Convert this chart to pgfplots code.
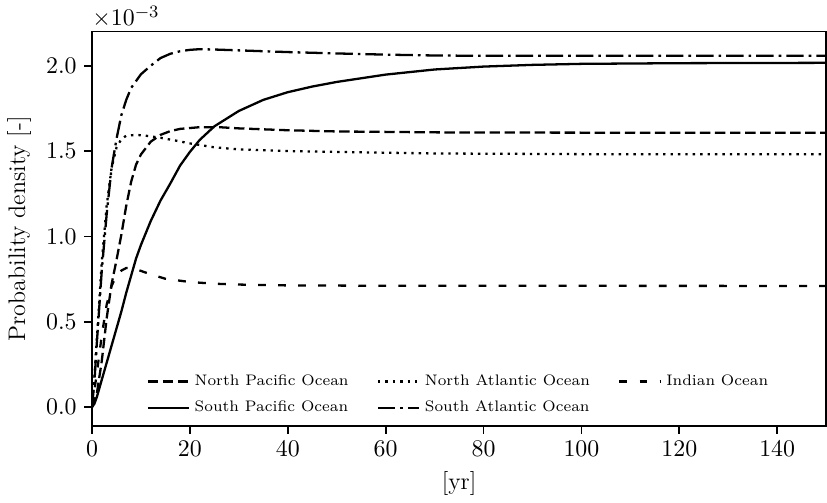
\documentclass[border=0pt]{standalone}
\usepackage{pgfplots}
\pgfplotsset{compat=1.18}

% values in units of 1e-3
\pgfplotstableread{
x y
0 0
1 0.08
2 0.27
3 0.52
4 0.72
5 0.86
6 1.01
7 1.18
8 1.32
9 1.42
10 1.48
12 1.555
14 1.595
16 1.617
18 1.63
22 1.64
26 1.64
30 1.633
40 1.622
50 1.615
73 1.609
100 1.608
150 1.607
}\northpacific

\pgfplotstableread{
x y
0 0
0.5 0.18
1 0.4
2 0.85
3 1.18
4 1.4
5 1.52
6 1.57
7 1.59
9 1.595
11 1.59
14 1.578
17 1.562
20 1.545
25 1.522
30 1.51
40 1.5
50 1.495
70 1.486
100 1.482
150 1.481
}\northatlantic

\pgfplotstableread{
x y
0 0
1 0.2
2 0.42
3 0.6
4 0.71
5 0.77
6 0.8
7 0.815
8 0.815
9 0.808
10 0.798
12 0.778
15 0.752
20 0.733
25 0.723
30 0.718
40 0.713
60 0.711
150 0.71
}\indian

\pgfplotstableread{
x y
0 0
0.5 0.02
1 0.06
2 0.16
3 0.26
4 0.36
5 0.46
6 0.56
7 0.67
8 0.77
9 0.87
10 0.95
12 1.09
14 1.21
16 1.31
18 1.415
20 1.495
22 1.565
25 1.645
30 1.735
35 1.8
40 1.845
45 1.878
50 1.905
60 1.948
70 1.978
80 1.995
90 2.005
100 2.011
120 2.015
150 2.017
}\southpacific

\pgfplotstableread{
x y
0 0
0.5 0.15
1 0.38
2 0.8
3 1.13
4 1.4
5 1.57
6 1.71
7 1.8
8 1.87
10 1.95
12 2.0
14 2.045
16 2.07
18 2.085
20 2.093
22 2.097
25 2.095
30 2.09
40 2.08
50 2.072
60 2.065
70 2.06
80 2.058
100 2.058
150 2.058
}\southatlantic

\begin{document}
\begin{tikzpicture}
\begin{axis}[
    name=main,
    scale only axis,
    width=337pt, height=181pt,
    xmin=0, xmax=150,
    ymin=-0.11, ymax=2.2,
    xtick={0,20,...,140},
    ytick={0,0.5,1,1.5,2},
    yticklabel style={/pgf/number format/.cd,fixed,fixed zerofill,precision=1},
    tick label style={font=\fontsize{11}{13}\selectfont},
    label style={font=\fontsize{11}{13}\selectfont},
    tick align=outside,
    xtick pos=bottom, ytick pos=left,
    major tick length=3.5pt,
    axis line style={line width=0.8pt},
    every tick/.style={black, line width=0.8pt},
    xlabel={[yr]},
    ylabel={Probability density [-]},
    legend columns=3,
    legend style={draw=none, fill=none, font=\scriptsize,
        at={(0.065,0.005)}, anchor=south west, row sep=1.5pt,
        /tikz/every even column/.append style={column sep=11pt}},
    legend cell align=left,
    legend image code/.code={\draw[#1] (0pt,0pt) -- (19pt,0pt);},
    every axis plot/.append style={black, line width=1.05pt},
]
\addplot[dash pattern=on 4.8pt off 2.1pt] table {\northpacific};
\addlegendentry{North Pacific Ocean}
\addplot[dash pattern=on 1.1pt off 2.3pt] table {\northatlantic};
\addlegendentry{North Atlantic Ocean}
\addplot[dash pattern=on 3.6pt off 5.6pt] table {\indian};
\addlegendentry{Indian Ocean}
\addplot[solid] table {\southpacific};
\addlegendentry{South Pacific Ocean}
\addplot[dash pattern=on 8pt off 2.3pt on 1.2pt off 2.3pt] table {\southatlantic};
\addlegendentry{South Atlantic Ocean}
\end{axis}
\node[anchor=south west, inner sep=0pt, yshift=1.5pt, font=\fontsize{11}{13}\selectfont]
    at (main.north west) {$\times10^{-3}$};
\path (main.north west) ++(0,14.5pt);
\end{tikzpicture}
\end{document}
